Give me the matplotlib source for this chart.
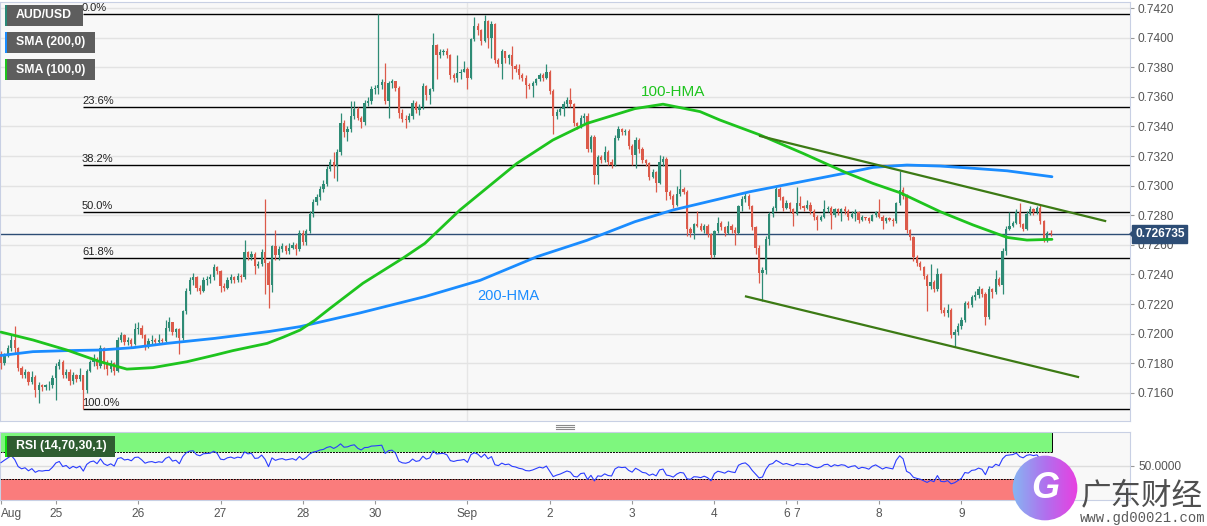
import numpy as np
import matplotlib
matplotlib.use("Agg")
import matplotlib.pyplot as plt
import matplotlib.transforms as mtransforms
from matplotlib.patches import Rectangle, Circle, Polygon
from matplotlib.lines import Line2D

plt.rcParams['font.family'] = ['Liberation Sans', 'DejaVu Sans']

# hourly AUD/USD candles, prices in pips (0.0001)
first_open = 7186
close = [
    7180, 7185, 7190, 7196, 7190, 7177, 7172, 7174, 7167, 7171,
    7162, 7165, 7164, 7165, 7165, 7170, 7178, 7181, 7172, 7174,
    7168, 7172, 7169, 7172, 7162, 7175, 7181, 7183, 7178, 7190,
    7180, 7176, 7180, 7175, 7196, 7199, 7194, 7196, 7193, 7203,
    7204, 7199, 7192, 7195, 7196, 7194, 7196, 7195, 7204, 7208,
    7201, 7203, 7197, 7215, 7229, 7236, 7238, 7231, 7229, 7236,
    7237, 7238, 7245, 7242, 7232, 7231, 7236, 7238, 7236, 7239,
    7238, 7255, 7252, 7254, 7246, 7247, 7255, 7248, 7233, 7259,
    7253, 7257, 7259, 7256, 7258, 7260, 7257, 7268, 7262, 7269,
    7281, 7289, 7292, 7298, 7301, 7311, 7316, 7313, 7323, 7342,
    7336, 7338, 7347, 7352, 7346, 7343, 7356, 7357, 7365, 7366,
    7368, 7370, 7357, 7369, 7371, 7366, 7349, 7345, 7344, 7347,
    7356, 7351, 7353, 7367, 7361, 7365, 7395, 7388, 7390, 7391,
    7388, 7375, 7373, 7376, 7377, 7379, 7373, 7399, 7408, 7405,
    7398, 7411, 7400, 7409, 7385, 7382, 7391, 7386, 7388, 7381,
    7379, 7375, 7373, 7368, 7367, 7369, 7372, 7375, 7373, 7377,
    7364, 7347, 7350, 7352, 7355, 7358, 7355, 7342, 7340, 7346,
    7347, 7325, 7333, 7307, 7319, 7317, 7323, 7316, 7314, 7332,
    7338, 7336, 7337, 7327, 7321, 7331, 7325, 7317, 7315, 7306,
    7309, 7302, 7316, 7318, 7296, 7293, 7287, 7294, 7298, 7296,
    7271, 7268, 7274, 7273, 7270, 7273, 7267, 7253, 7269, 7275,
    7272, 7268, 7273, 7270, 7268, 7286, 7291, 7293, 7286, 7272,
    7258, 7241, 7243, 7264, 7281, 7285, 7298, 7292, 7285, 7288,
    7284, 7281, 7288, 7286, 7285, 7287, 7283, 7279, 7277, 7279,
    7284, 7285, 7280, 7284, 7282, 7284, 7283, 7279, 7281, 7282,
    7277, 7279, 7278, 7276, 7280, 7282, 7279, 7276, 7278, 7277,
    7276, 7288, 7297, 7293, 7270, 7265, 7252, 7248, 7245, 7239,
    7232, 7235, 7230, 7240, 7216, 7214, 7216, 7199, 7201, 7205,
    7209, 7221, 7219, 7225, 7226, 7230, 7227, 7211, 7230, 7228,
    7237, 7233, 7256, 7271, 7273, 7275, 7282, 7274, 7271, 7281,
    7284, 7282, 7285, 7276, 7264, 7268, 7267.35,
]
high = [
    7188, 7187, 7192, 7199, 7205, 7191, 7178, 7176, 7175, 7175,
    7172, 7167, 7166, 7166, 7168, 7172, 7180, 7183, 7182, 7176,
    7176, 7174, 7173, 7177, 7172, 7176, 7182, 7186, 7184, 7192,
    7191, 7182, 7182, 7181, 7198, 7201, 7200, 7198, 7197, 7207,
    7208, 7206, 7200, 7197, 7199, 7197, 7200, 7197, 7209, 7211,
    7208, 7204, 7204, 7216, 7231, 7238, 7241, 7239, 7233, 7238,
    7239, 7240, 7247, 7246, 7243, 7234, 7238, 7240, 7239, 7241,
    7240, 7263, 7256, 7256, 7255, 7249, 7257, 7291, 7249, 7260,
    7270, 7259, 7261, 7260, 7261, 7262, 7261, 7270, 7270, 7271,
    7283, 7291, 7294, 7300, 7304, 7313, 7318, 7323, 7325, 7349,
    7344, 7340, 7357, 7357, 7353, 7347, 7358, 7360, 7367, 7368,
    7416, 7372, 7383, 7371, 7372, 7371, 7367, 7352, 7348, 7349,
    7358, 7357, 7355, 7369, 7368, 7366, 7403, 7396, 7392, 7392,
    7393, 7389, 7376, 7388, 7379, 7384, 7380, 7400, 7414, 7410,
    7406, 7415, 7412, 7411, 7410, 7386, 7392, 7391, 7389, 7394,
    7382, 7382, 7376, 7375, 7369, 7371, 7373, 7376, 7376, 7382,
    7378, 7365, 7352, 7353, 7357, 7360, 7366, 7356, 7343, 7348,
    7349, 7349, 7334, 7334, 7321, 7321, 7327, 7324, 7318, 7334,
    7340, 7339, 7338, 7338, 7328, 7333, 7332, 7326, 7318, 7316,
    7311, 7310, 7321, 7320, 7319, 7297, 7294, 7300, 7311, 7299,
    7297, 7272, 7275, 7283, 7275, 7274, 7274, 7268, 7270, 7279,
    7276, 7273, 7276, 7274, 7272, 7287, 7293, 7296, 7294, 7287,
    7273, 7260, 7245, 7266, 7282, 7286, 7299, 7299, 7293, 7290,
    7289, 7285, 7299, 7293, 7287, 7290, 7289, 7284, 7280, 7280,
    7290, 7286, 7286, 7285, 7285, 7285, 7286, 7284, 7283, 7284,
    7283, 7280, 7279, 7279, 7281, 7283, 7291, 7280, 7279, 7279,
    7278, 7289, 7310, 7299, 7294, 7271, 7266, 7253, 7249, 7246,
    7240, 7247, 7236, 7244, 7241, 7218, 7220, 7217, 7203, 7207,
    7211, 7222, 7222, 7226, 7229, 7232, 7231, 7228, 7232, 7231,
    7243, 7238, 7258, 7273, 7282, 7276, 7284, 7288, 7275, 7283,
    7286, 7285, 7286, 7287, 7277, 7269, 7270,
]
low = [
    7176, 7179, 7184, 7188, 7187, 7175, 7170, 7170, 7165, 7166,
    7157, 7153, 7161, 7162, 7162, 7163, 7155, 7176, 7170, 7170,
    7165, 7166, 7167, 7168, 7149, 7160, 7174, 7178, 7176, 7177,
    7176, 7172, 7174, 7172, 7174, 7194, 7192, 7192, 7191, 7192,
    7200, 7197, 7189, 7190, 7193, 7192, 7193, 7193, 7194, 7202,
    7199, 7198, 7186, 7196, 7213, 7227, 7233, 7229, 7227, 7228,
    7233, 7234, 7236, 7240, 7228, 7229, 7230, 7234, 7234, 7235,
    7235, 7237, 7250, 7250, 7240, 7244, 7246, 7227, 7217, 7228,
    7250, 7250, 7255, 7254, 7254, 7257, 7253, 7256, 7260, 7260,
    7268, 7279, 7287, 7290, 7296, 7300, 7310, 7305, 7303, 7321,
    7333, 7330, 7336, 7345, 7344, 7339, 7341, 7354, 7355, 7362,
    7362, 7365, 7355, 7346, 7366, 7364, 7346, 7343, 7339, 7343,
    7345, 7349, 7348, 7352, 7358, 7355, 7364, 7372, 7386, 7388,
    7386, 7372, 7370, 7370, 7372, 7377, 7365, 7372, 7398, 7402,
    7395, 7397, 7393, 7386, 7383, 7380, 7372, 7383, 7382, 7372,
    7377, 7372, 7371, 7359, 7365, 7360, 7368, 7371, 7371, 7372,
    7362, 7335, 7345, 7348, 7347, 7353, 7353, 7340, 7338, 7339,
    7342, 7323, 7323, 7301, 7301, 7315, 7316, 7314, 7312, 7313,
    7331, 7334, 7334, 7325, 7314, 7312, 7322, 7315, 7313, 7304,
    7305, 7296, 7301, 7313, 7290, 7291, 7285, 7286, 7293, 7294,
    7266, 7265, 7264, 7272, 7269, 7268, 7265, 7251, 7252, 7268,
    7270, 7266, 7267, 7268, 7260, 7267, 7283, 7289, 7284, 7270,
    7254, 7234, 7222, 7240, 7260, 7279, 7283, 7290, 7283, 7284,
    7282, 7273, 7280, 7284, 7283, 7284, 7281, 7277, 7270, 7276,
    7278, 7282, 7271, 7279, 7280, 7276, 7281, 7277, 7278, 7276,
    7275, 7276, 7277, 7275, 7276, 7279, 7278, 7271, 7275, 7276,
    7273, 7275, 7287, 7291, 7268, 7263, 7249, 7246, 7243, 7237,
    7215, 7230, 7228, 7229, 7214, 7212, 7211, 7197, 7191, 7199,
    7203, 7208, 7217, 7218, 7223, 7224, 7225, 7206, 7210, 7224,
    7227, 7232, 7227, 7253, 7270, 7272, 7274, 7272, 7269, 7270,
    7280, 7280, 7281, 7274, 7262, 7262, 7266,
]

# moving average curves (candle index, pips)
hma100_x = [0, 9.3, 19.2, 28.9, 36.7, 44.3, 54.2, 62.4, 67.6, 77.6, 82.2, 87.2, 91.5, 95.9,
            105.5, 117.2, 123.6, 133.8, 150.4, 160.9, 170.8, 184.8, 193.0, 203.8,
            209.6, 221.3, 233.8, 246.1, 254.2, 262.1, 273.8, 283.4, 293.3, 299.1, 306.4]
hma100_y = [7201, 7195.7, 7188.9, 7181, 7176, 7177, 7181, 7185.5, 7188.5, 7193.4, 7197.5, 7202.4,
            7209, 7217, 7234, 7251, 7261, 7283.5, 7315, 7330.8, 7342, 7352, 7355, 7350,
            7344.3, 7334.2, 7321.8, 7309, 7301.5, 7295.2, 7282.4, 7273.4, 7265, 7263.2, 7263.7]
hma200_x = [0, 9.3, 19.2, 28.9, 38.5, 48.4, 62.4, 78.4, 87.2, 104.7, 123.6, 139.7,
            156.3, 170.8, 184.8, 195.9, 218.4, 246.1, 254.2, 264.1, 273.8, 283.4, 293.3, 306.4]
hma200_y = [7185.2, 7187.8, 7188.5, 7188.9, 7190.5, 7193.4, 7196.8, 7201.5, 7204.7, 7214, 7225, 7236,
            7252, 7263, 7275.6, 7283.5, 7295.9, 7308.4, 7312.3, 7313.9, 7313.2, 7311.7, 7310, 7306]

# trend lines (candle index, pips)
upper_trend_x = [221.3, 321.9]
upper_trend_y = [7333.5, 7276.1]
lower_trend_x = [217.2, 314.0]
lower_trend_y = [7225.1, 7170.7]

fib_high = 0.7416
fib_low = 0.7149
fib_levels = [0.0, 0.236, 0.382, 0.5, 0.618, 1.0]
fib_names = ['0.0%', '23.6%', '38.2%', '50.0%', '61.8%', '100.0%']
fib_start = 24

last_price = 0.726735

day_ticks = [0, 16, 40, 64, 88, 109, 136, 160, 184, 208, 229, 232, 256, 280, 304]
day_labels = ['Aug', '25', '26', '27', '28', '30', 'Sep', '2', '3', '4', '6', '7', '8', '9', '10']
price_ticks = [0.7160, 0.7180, 0.7200, 0.7220, 0.7240, 0.7260, 0.7280,
               0.7300, 0.7320, 0.7340, 0.7360, 0.7380, 0.7400, 0.7420]

rsi_period = 14
rsi_seed_gain = 2.6
rsi_seed_loss = 1.7

UP = '#2e8b75'
DOWN = '#dc5a4a'

W, H = 1207, 526


def fig_rect(x0, y0, x1, y1):
    return (x0 / W, 1 - y1 / H), (x1 - x0) / W, (y1 - y0) / H


def px_box(fig, x0, y0, x1, y1, color, **kw):
    xy, w, h = fig_rect(x0, y0, x1, y1)
    fig.patches.append(Rectangle(xy, w, h, transform=fig.transFigure,
                                 facecolor=color, edgecolor='none', **kw))


c = np.array(close, dtype=float) / 1e4
o = np.concatenate([[first_open / 1e4], c[:-1]])
hi = np.maximum(np.array(high, dtype=float) / 1e4, np.maximum(o, c))
lo = np.minimum(np.array(low, dtype=float) / 1e4, np.minimum(o, c))
idx = np.arange(len(c))

# RSI (Wilder)
ag, al = rsi_seed_gain, rsi_seed_loss
rsi = []
prev = first_open
for v in close:
    d = v - prev
    ag = (ag * (rsi_period - 1) + max(d, 0)) / rsi_period
    al = (al * (rsi_period - 1) + max(-d, 0)) / rsi_period
    rsi.append(100 - 100 / (1 + ag / al))
    prev = v

fig = plt.figure(figsize=(W / 100, H / 100), dpi=100, facecolor='white')

xmin, xmax = -0.29, 329.15
(mx, my), mw, mh = fig_rect(0, 2, 1130, 421)
ax = fig.add_axes([mx, my, mw, mh], facecolor='#f8f8f8')
ax.set_xlim(xmin, xmax)
ax.set_ylim(0.7420 - 413 / 14800, 0.7420 + 6 / 14800)

for s in ax.spines.values():
    s.set_color('#c8d0e4')
ax.set_xticks([])
ax.yaxis.tick_right()
ax.set_yticks(price_ticks)
ax.set_yticklabels(['%.4f' % t for t in price_ticks])
ax.tick_params(axis='y', length=3, color='#999999', labelcolor='#555555',
               labelsize=8.6, pad=2.5)
ax.set_axisbelow(True)
ax.grid(axis='y', color='#e3e3e3', lw=1)
ax.axvline(136, color='#e6e6e6', lw=1, zorder=0)

# fibonacci retracement
for lev, name in zip(fib_levels, fib_names):
    p = fib_high - lev * (fib_high - fib_low)
    ax.hlines(p, fib_start, xmax, color='black', lw=1, zorder=1)
    ax.annotate(name, (fib_start - 0.4, p), xytext=(0, 0.5), textcoords='offset points',
                ha='left', va='bottom', fontsize=8, color='#222222', zorder=5)

# candles
cols = np.where(c >= o, UP, DOWN)
ax.vlines(idx, lo, hi, colors=cols, lw=0.9, zorder=3)
body = np.maximum(np.abs(c - o), 0.00003)
ax.bar(idx, body, bottom=np.minimum(o, c), width=0.66, color=cols, zorder=3, linewidth=0)

# moving averages and trend lines
ax.plot(hma200_x, np.array(hma200_y) / 1e4, color='#1a8cff', lw=2, zorder=4,
        solid_capstyle='round', solid_joinstyle='round')
ax.plot(hma100_x, np.array(hma100_y) / 1e4, color='#1ec41e', lw=2, zorder=4,
        solid_capstyle='round', solid_joinstyle='round')
ax.plot(upper_trend_x, np.array(upper_trend_y) / 1e4, color='#3c7a14', lw=1.6, zorder=4)
ax.plot(lower_trend_x, np.array(lower_trend_y) / 1e4, color='#3c7a14', lw=1.6, zorder=4)
ax.text(186.6, 0.73632, '100-HMA', color='#1ec41e', fontsize=11, va='center', ha='left')
ax.text(138.8, 0.72254, '200-HMA', color='#1a8cff', fontsize=10.5, va='center', ha='left')

# last price line and tag
ax.axhline(last_price, color='#2d4d75', lw=1, zorder=2)
trans = mtransforms.blended_transform_factory(ax.transAxes, ax.transData)
ax.text(1.0045, last_price, '%.6f' % last_price, transform=trans, clip_on=False,
        ha='left', va='center', color='white', fontsize=8.6, fontweight='bold', zorder=6,
        bbox=dict(boxstyle='square,pad=0.22', fc='#2d4d75', ec='#2d4d75'))
fig.patches.append(Polygon([(1129 / W, 1 - 234 / H), (1134 / W, 1 - 229 / H),
                            (1134 / W, 1 - 239 / H)], closed=True,
                           transform=fig.transFigure, fc='#2d4d75', ec='none'))

# RSI panel
(rx, ry), rw, rh = fig_rect(0, 432, 1130, 500)
ax2 = fig.add_axes([rx, ry, rw, rh], facecolor='#f8f8f8')
ax2.set_xlim(xmin, xmax)
ax2.set_ylim(-0.7, 100)
for s in ax2.spines.values():
    s.set_color('#c8d0e4')
band_end = len(c) - 0.6
ax2.add_patch(Rectangle((xmin, 70), band_end - xmin, 30, fc='#7ef77e', ec='none', zorder=1))
ax2.add_patch(Rectangle((xmin, -0.7), band_end - xmin, 30.7, fc='#fa7c7c', ec='none', zorder=1))
ax2.hlines([70, 30], xmin, band_end, colors='black', lw=0.7, linestyles=(0, (2, 1)), zorder=2)
ax2.vlines(band_end, 70, 100, colors='black', lw=0.7, zorder=2)
ax2.vlines(band_end, -0.7, 30, colors='black', lw=0.7, zorder=2)
ax2.axhline(50, color='#dddddd', lw=1, zorder=0)
ax2.plot(idx, rsi, color='#2a3cff', lw=0.8, zorder=3)
ax2.yaxis.tick_right()
ax2.set_yticks([50])
ax2.set_yticklabels(['50.0000'])
ax2.set_xticks(day_ticks)
ax2.set_xticklabels(day_labels)
ax2.tick_params(axis='both', length=3, color='#999999', labelcolor='#555555',
                labelsize=8.6, pad=3)
ax2.get_xticklabels()[0].set_ha('left')

# panel splitter handle
for yy in (425, 427, 429):
    fig.add_artist(Line2D([556 / W, 574 / W], [1 - yy / H, 1 - yy / H],
                          color='#8a8a8a', lw=0.8))

# legend boxes
legend = [('AUD/USD', 5, 83, '#2a8a78'),
          ('SMA (200,0)', 32, 95, '#1a8cff'),
          ('SMA (100,0)', 59, 95, '#1ec41e')]
for name, top, right, stripe in legend:
    px_box(fig, 5, top, right, top + 21, '#5e5e5e')
    px_box(fig, 5, top, 7, top + 21, stripe)
    fig.text(16 / W, 1 - (top + 10.5) / H, name, color='white', fontsize=8.8,
             fontweight='bold', va='center', ha='left')
px_box(fig, 5, 436, 115, 457, '#2f5d31')
px_box(fig, 5, 436, 7, 457, '#10e010')
fig.text(16 / W, 1 - 446.5 / H, 'RSI (14,70,30,1)', color='white', fontsize=8.8,
         fontweight='bold', va='center', ha='left')

# watermark
(lx, ly), lw_, lh_ = fig_rect(1012, 455, 1078, 521)
logo = fig.add_axes([lx, ly, lw_, lh_], zorder=10)
logo.set_axis_off()
grad = np.linspace(0, 1, 64)[None, :]
cmap = matplotlib.colors.LinearSegmentedColormap.from_list(
    'wm', ['#86b6f2', '#b070ee', '#ea3ee0'])
img = logo.imshow(np.repeat(grad, 64, axis=0), cmap=cmap, extent=(0, 1, 0, 1),
                  aspect='auto')
circ = Circle((0.5, 0.5), 0.49, transform=logo.transAxes)
img.set_clip_path(circ)
logo.set_xlim(0, 1)
logo.set_ylim(0, 1)
logo.text(0.5, 0.5, 'G', color='white', fontsize=26, fontweight='bold', style='italic',
          ha='center', va='center', transform=logo.transAxes)
fig.text(1142 / W, 1 - 496 / H, '广东财经', color='#4f4f4f', fontsize=22,
         family=['Noto Sans CJK SC', 'DejaVu Sans'], ha='center', va='center', zorder=11)
fig.text(1143 / W, 1 - 518 / H, 'www.gd00021.com', color='#5a5a5a', fontsize=10,
         family=['Liberation Mono', 'DejaVu Sans Mono'], ha='center', va='center', zorder=11)

fig.savefig('out.png', dpi=100, facecolor='white')
